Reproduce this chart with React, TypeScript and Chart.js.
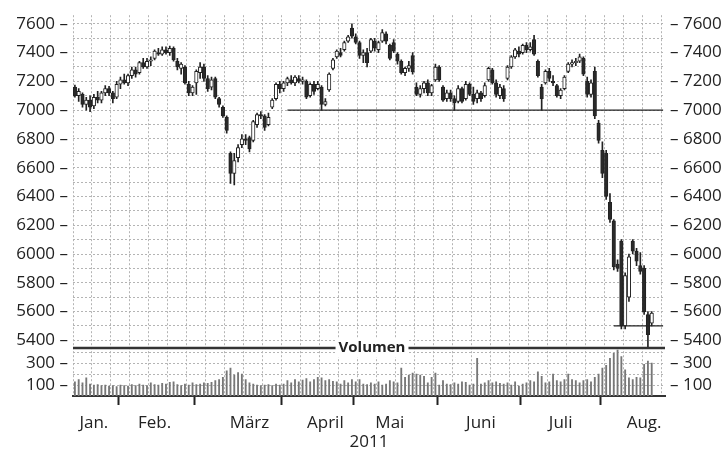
import { useEffect, useRef } from 'react';
import { Chart, registerables } from 'chart.js';

Chart.register(...registerables);

// ---------- data ----------
const monthNames = ['Jan.', 'Feb.', 'M\u00e4rz', 'April', 'Mai', 'Juni', 'Juli', 'Aug.'];
// trading-day slots per month on the x axis (August includes empty slots at the end)
const monthDays = [12, 20, 23, 19, 22, 22, 21, 17];
const monthLabelIndex = [5, 21, 46, 66, 83, 107, 128, 150];
const yearLabel = '2011';

const opens = [
  7160, 7100, 7110, 7040, 7070, 7030, 7090, 7070, 7120, 7150, 7120, 7090,
  7180, 7210, 7190, 7240, 7280, 7260, 7330, 7300, 7340, 7360, 7400, 7390, 7420, 7400, 7430, 7340, 7290, 7300, 7180, 7120,
  7190, 7260, 7300, 7220, 7160, 7220, 7080, 7020, 6950, 6700, 6560, 6670, 6760, 6800, 6810, 6790, 6900, 6970, 6960, 6900, 7020, 7080, 7180,
  7150, 7190, 7210, 7190, 7220, 7200, 7200, 7100, 7180, 7150, 7160, 7040, 7140, 7290, 7370, 7400, 7420, 7480, 7570,
  7510, 7470, 7380, 7400, 7410, 7480, 7420, 7480, 7530, 7450, 7470, 7390, 7340, 7260, 7290, 7380, 7160, 7110, 7150, 7190, 7120, 7210,
  7300, 7160, 7080, 7120, 7080, 7060, 7150, 7080, 7180, 7110, 7080, 7120, 7100, 7210, 7280, 7190, 7100, 7150, 7220, 7300, 7370, 7410,
  7400, 7450, 7420, 7490, 7340, 7160, 7190, 7270, 7200, 7170, 7100, 7150, 7270, 7320, 7330, 7340, 7360, 7200, 7110, 7270, 6910,
  6720, 6700, 6360, 6230, 5930, 6090, 5500, 5700, 6090, 6020, 5920, 5900, 5580, 5520,
];
const highs = [
  7175, 7150, 7120, 7090, 7100, 7110, 7130, 7130, 7170, 7165, 7130, 7200,
  7230, 7250, 7250, 7300, 7300, 7340, 7360, 7360, 7370, 7420, 7430, 7440, 7440, 7445, 7440, 7360, 7330, 7310, 7200, 7170,
  7280, 7330, 7320, 7240, 7230, 7230, 7090, 7030, 6960, 6710, 6700, 6760, 6830, 6830, 6820, 6930, 6980, 6990, 6970, 6980, 7080, 7190, 7200,
  7200, 7230, 7240, 7240, 7240, 7230, 7210, 7190, 7200, 7200, 7170, 7080, 7260, 7360, 7420, 7430, 7480, 7520, 7600,
  7530, 7480, 7420, 7430, 7500, 7500, 7480, 7560, 7545, 7460, 7490, 7400, 7350, 7300, 7340, 7400, 7190, 7170, 7200, 7210, 7180, 7320,
  7310, 7170, 7140, 7140, 7100, 7170, 7160, 7200, 7190, 7160, 7140, 7130, 7190, 7300, 7290, 7210, 7180, 7170, 7310, 7380, 7430, 7440,
  7460, 7470, 7470, 7520, 7350, 7180, 7280, 7290, 7240, 7180, 7150, 7240, 7330, 7350, 7360, 7390, 7370, 7230, 7210, 7300, 6930,
  6780, 6720, 6420, 6240, 5960, 6100, 5870, 6000, 6100, 6040, 6010, 5920, 5600, 5600,
];
const lows = [
  7090, 7060, 7020, 7000, 6990, 7010, 7050, 7050, 7100, 7100, 7050, 7080,
  7150, 7180, 7170, 7220, 7230, 7250, 7290, 7290, 7310, 7350, 7380, 7380, 7390, 7380, 7340, 7280, 7250, 7180, 7100, 7100,
  7110, 7220, 7200, 7130, 7140, 7080, 7020, 6950, 6840, 6490, 6480, 6640, 6740, 6760, 6710, 6780, 6880, 6940, 6860, 6890, 7010, 7070, 7120,
  7130, 7170, 7180, 7170, 7190, 7180, 7080, 7090, 7110, 7140, 7000, 7030, 7130, 7280, 7360, 7370, 7410, 7470, 7500,
  7460, 7360, 7330, 7300, 7400, 7410, 7400, 7470, 7460, 7350, 7400, 7320, 7250, 7240, 7270, 7250, 7100, 7090, 7120, 7100, 7100, 7200,
  7200, 7060, 7060, 7060, 7000, 7050, 7050, 7070, 7100, 7040, 7050, 7060, 7090, 7200, 7180, 7090, 7080, 7060, 7210, 7290, 7360, 7370,
  7390, 7400, 7410, 7380, 7230, 7000, 7180, 7200, 7170, 7090, 7080, 7140, 7260, 7300, 7310, 7330, 7240, 7090, 7090, 6940, 6770,
  6530, 6380, 6220, 5890, 5880, 5480, 5480, 5670, 6000, 5920, 5860, 5580, 5350, 5500,
];
const closes = [
  7100, 7130, 7040, 7070, 7020, 7090, 7070, 7120, 7150, 7120, 7080, 7180,
  7210, 7190, 7240, 7280, 7250, 7330, 7300, 7340, 7350, 7410, 7390, 7420, 7400, 7430, 7350, 7300, 7320, 7190, 7120, 7160,
  7270, 7300, 7220, 7150, 7210, 7090, 7040, 6960, 6860, 6560, 6650, 6740, 6800, 6790, 6730, 6920, 6970, 6960, 6880, 6950, 7070, 7180, 7150,
  7190, 7220, 7190, 7230, 7200, 7210, 7090, 7180, 7130, 7180, 7040, 7060, 7250, 7350, 7410, 7380, 7470, 7510, 7515,
  7470, 7380, 7400, 7330, 7490, 7430, 7470, 7540, 7480, 7360, 7410, 7340, 7260, 7290, 7310, 7265, 7110, 7150, 7190, 7120, 7170, 7300,
  7210, 7070, 7120, 7080, 7050, 7150, 7060, 7180, 7110, 7060, 7120, 7080, 7170, 7290, 7190, 7110, 7160, 7080, 7300, 7370, 7420, 7390,
  7450, 7420, 7440, 7390, 7240, 7080, 7270, 7220, 7190, 7100, 7140, 7230, 7320, 7330, 7340, 7370, 7250, 7110, 7190, 6960, 6790,
  6560, 6400, 6240, 5910, 5900, 5500, 5850, 5980, 6020, 5950, 5880, 5600, 5440, 5590,
];
const volumes = [
  130, 150, 120, 165, 110, 100, 105, 95, 100, 90, 95, 85,
  100, 95, 90, 105, 95, 110, 100, 95, 120, 105, 100, 115, 110, 125, 130, 105, 95, 110, 100, 120,
  105, 110, 120, 115, 125, 140, 150, 170, 230, 255, 190, 215, 200, 150, 120, 110, 100, 95, 100, 105, 95, 110, 100,
  110, 140, 120, 150, 130, 145, 160, 130, 150, 170, 165, 140, 150, 135, 130, 110, 140, 120, 150,
  130, 150, 110, 105, 120, 110, 130, 100, 110, 140, 130, 120, 255, 170, 190, 210, 200, 190, 180, 120, 170, 210,
  100, 140, 110, 105, 120, 110, 130, 125, 100, 110, 345, 110, 120, 140, 120, 130, 115, 110, 120, 100, 130, 90,
  110, 120, 140, 130, 220, 180, 120, 130, 200, 140, 130, 150, 200, 150, 140, 120, 140, 150, 130, 170, 200,
  255, 280, 345, 390, 420, 360, 240, 165, 150, 170, 165, 290, 320, 300,
];

const supportLevels = [7000, 5500];
const supportFrom = [56, 142];
const supportTo = [155, 155];

const priceGrid = [5400, 5500, 5600, 5700, 5800, 5900, 6000, 6100, 6200, 6300, 6400, 6500, 6600, 6700, 6800, 6900, 7000, 7100, 7200, 7300, 7400, 7500, 7600];
const priceLabels = [5400, 5600, 5800, 6000, 6200, 6400, 6600, 6800, 7000, 7200, 7400, 7600];
const volumeGrid = [100, 200, 300, 400];
const volumeLabels = [100, 300];
const volumeTitle = 'Volumen';

const DASH = '\u2013';

// ---------- derived structures ----------
const dayLabels: string[] = [];
const boundaryIndex = new Set<number>();
monthDays.forEach((n, m) => {
  if (m > 0) boundaryIndex.add(dayLabels.length);
  for (let d = 0; d < n; d++) dayLabels.push(`${monthNames[m]} ${d + 1}`);
});
const tickText: Record<number, string> = {};
monthLabelIndex.forEach((idx, m) => { tickText[idx] = monthNames[m]; });

const INK = '#222';
const FAMILY = "'Open Sans', 'DejaVu Sans', sans-serif";
const FONT = { family: FAMILY, size: 17 };

const volumenPlugin = {
  id: 'volumenLine',
  afterDraw(chart: any) {
    const { ctx, chartArea } = chart;
    const yv = chart.scales.yVol;
    const y = Math.round(yv.top);
    ctx.save();
    ctx.strokeStyle = '#333';
    ctx.lineWidth = 2.4;
    ctx.beginPath();
    ctx.moveTo(chartArea.left, y);
    ctx.lineTo(chartArea.right, y);
    ctx.stroke();
    ctx.font = `bold 15px ${FAMILY}`;
    const w = ctx.measureText(volumeTitle).width;
    const cx = (chartArea.left + chartArea.right) / 2 + 3;
    ctx.fillStyle = '#fff';
    ctx.fillRect(cx - w / 2 - 3, y - 9, w + 6, 18);
    ctx.fillStyle = INK;
    ctx.textAlign = 'center';
    ctx.textBaseline = 'middle';
    ctx.fillText(volumeTitle, cx, y);
    ctx.restore();
  },
};

export default function App() {
  const ref = useRef<HTMLCanvasElement | null>(null);

  useEffect(() => {
    if (!ref.current) return;
    const bodies = opens.map((o, i) => [o, closes[i]]);
    const wicks = lows.map((l, i) => [l, highs[i]]);
    const bodyColors = opens.map((o, i) => (closes[i] >= o ? '#ffffff' : '#2a2a2a'));
    const supportSets = supportLevels.map((lvl, k) => ({
      type: 'line' as const,
      label: `Linie ${lvl}`,
      data: dayLabels.map((_, i) => (i >= supportFrom[k] && i <= supportTo[k] ? lvl : null)),
      yAxisID: 'y',
      borderColor: INK,
      borderWidth: 1.3,
      pointRadius: 0,
      spanGaps: true,
      order: 0,
    }));

    const gridDash = [2, 2];
    const leftTicks = (labels: number[]) => ({
      autoSkip: false,
      padding: 5,
      color: INK,
      font: FONT,
      callback: (v: any) => (labels.includes(Number(v)) ? `${v} ${DASH}` : ''),
    });
    const rightTicks = (labels: number[]) => ({
      autoSkip: false,
      padding: 5,
      color: INK,
      font: FONT,
      callback: (v: any) => (labels.includes(Number(v)) ? `${DASH} ${v}` : ''),
    });

    const chart = new Chart(ref.current, {
      type: 'bar',
      data: {
        labels: dayLabels,
        datasets: [
          ...supportSets,
          {
            type: 'bar',
            label: 'K\u00f6rper',
            data: bodies as any,
            yAxisID: 'y',
            backgroundColor: bodyColors,
            borderColor: '#222',
            borderWidth: 1,
            borderSkipped: false,
            barThickness: 3.5,
            grouped: false,
            order: 1,
          },
          {
            type: 'bar',
            label: 'Docht',
            data: wicks as any,
            yAxisID: 'y',
            backgroundColor: '#222',
            barThickness: 1,
            grouped: false,
            order: 2,
          },
          {
            type: 'bar',
            label: volumeTitle,
            data: volumes,
            yAxisID: 'yVol',
            backgroundColor: '#777777',
            barThickness: 1.2,
            grouped: false,
            order: 3,
          },
        ] as any,
      },
      options: {
        animation: false,
        responsive: true,
        maintainAspectRatio: false,
        events: [],
        layout: { padding: { top: 14, left: 0, right: 0, bottom: 0 } },
        plugins: { legend: { display: false }, tooltip: { enabled: false } },
        scales: {
          x: {
            type: 'category',
            offset: true,
            grid: {
              offset: true,
              color: (c: any) => (c.index % 5 === 0 ? '#b4b4b4' : 'rgba(0,0,0,0)'),
              lineWidth: 1,
              drawTicks: true,
              tickLength: 9,
              tickWidth: 2,
              tickColor: (c: any) => (boundaryIndex.has(c.index) ? '#222' : 'rgba(0,0,0,0)'),
            },
            border: { display: true, color: '#333', width: 2, dash: gridDash },
            ticks: {
              autoSkip: false,
              maxRotation: 0,
              minRotation: 0,
              padding: 8,
              color: INK,
              font: FONT,
              callback: (_v: any, i: number) => tickText[i] ?? '',
            },
            title: { display: true, text: yearLabel, color: INK, font: FONT, padding: { top: 0, bottom: 0 } },
            afterFit: (s: any) => { s.height = 56; },
          },
          y: {
            type: 'linear',
            position: 'left',
            stack: 'L',
            stackWeight: 335,
            weight: 2,
            min: 5345,
            max: 7660,
            afterBuildTicks: (s: any) => { s.ticks = priceGrid.map((v) => ({ value: v })); },
            ticks: leftTicks(priceLabels),
            grid: { color: '#b4b4b4', drawTicks: false },
            border: { display: false, dash: gridDash },
            afterFit: (s: any) => { s.width = 73; },
          },
          yVol: {
            type: 'linear',
            position: 'left',
            stack: 'L',
            stackWeight: 48,
            weight: 1,
            min: 0,
            max: 436,
            afterBuildTicks: (s: any) => { s.ticks = volumeGrid.map((v) => ({ value: v })); },
            ticks: leftTicks(volumeLabels),
            grid: { color: '#b4b4b4', drawTicks: false },
            border: { display: false, dash: gridDash },
            afterFit: (s: any) => { s.width = 73; },
          },
          yR: {
            type: 'linear',
            position: 'right',
            stack: 'R',
            stackWeight: 335,
            weight: 1,
            min: 5345,
            max: 7660,
            afterBuildTicks: (s: any) => { s.ticks = priceGrid.map((v) => ({ value: v })); },
            ticks: rightTicks(priceLabels),
            grid: { drawOnChartArea: false, drawTicks: false },
            border: { display: false },
            afterFit: (s: any) => { s.width = 59; },
          },
          yVolR: {
            type: 'linear',
            position: 'right',
            stack: 'R',
            stackWeight: 48,
            weight: 2,
            min: 0,
            max: 436,
            afterBuildTicks: (s: any) => { s.ticks = volumeGrid.map((v) => ({ value: v })); },
            ticks: rightTicks(volumeLabels),
            grid: { drawOnChartArea: false, drawTicks: false },
            border: { display: false },
            afterFit: (s: any) => { s.width = 59; },
          },
        } as any,
      },
      plugins: [volumenPlugin],
    });
    return () => chart.destroy();
  }, []);

  return (
    <div style={{ position: 'fixed', left: 0, top: 0, width: 724, height: 452, background: '#fff' }}>
      <canvas ref={ref} />
    </div>
  );
}
